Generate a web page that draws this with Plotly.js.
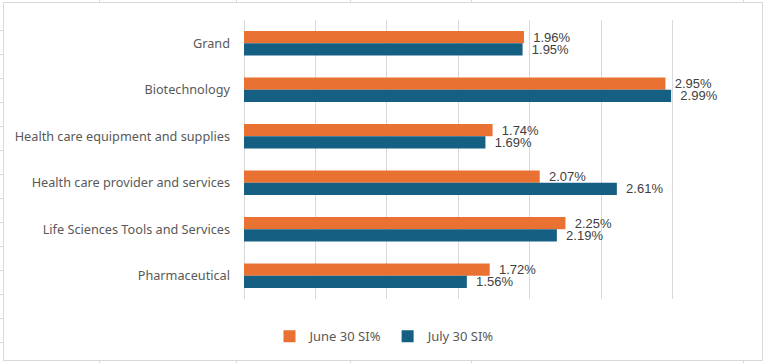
<!DOCTYPE html>
<html>
<head>
<meta charset="utf-8">
<script src="https://cdn.plot.ly/plotly-3.0.1.min.js"></script>
<style>
  html, body { margin: 0; padding: 0; background: #ffffff; }
  #wrap { position: relative; width: 765px; height: 363px; overflow: hidden; }
  #chart { width: 765px; height: 363px; }
  #frame { position: absolute; left: 3px; top: 2px; width: 760px; height: 359px;
           border: 1px solid #d9d9d9; pointer-events: none; box-sizing: border-box; }
  .vt { position: absolute; width: 1px; background: #d9d9d9; pointer-events: none; }
  .hl { position: absolute; height: 1px; background: #d9d9d9; pointer-events: none; }
</style>
</head>
<body>
<div id="wrap">
  <div id="chart"></div>
  <div id="frame"></div>
</div>
<script>
const categories = [
  "Grand",
  "Biotechnology",
  "Health care equipment and supplies",
  "Health care provider and services",
  "Life Sciences Tools and Services",
  "Pharmaceutical"
];
const juneValues = [1.96, 2.95, 1.74, 2.07, 2.25, 1.72];
const julyValues = [1.95, 2.99, 1.69, 2.61, 2.19, 1.56];
const seriesNames = ["June 30 SI%", "July 30 SI%"];

// faint spreadsheet cell lines peeking outside the chart frame (decoration)
(function () {
  const wrap = document.getElementById("wrap");
  [99, 236, 350, 471, 743].forEach(x => {
    const t = document.createElement("div"); t.className = "vt";
    t.style.left = x + "px"; t.style.top = "0px"; t.style.height = "2px"; wrap.appendChild(t);
    const b = document.createElement("div"); b.className = "vt";
    b.style.left = x + "px"; b.style.top = "361px"; b.style.height = "2px"; wrap.appendChild(b);
  });
  [30, 54, 78, 102, 126, 150, 174, 198, 222, 246, 270, 294, 318, 342].forEach(y => {
    const l = document.createElement("div"); l.className = "hl";
    l.style.left = "0px"; l.style.top = y + "px"; l.style.width = "3px"; wrap.appendChild(l);
  });
})();

function labels(vals) {
  return vals.map(v => "\u00a0\u2009" + v.toFixed(2) + "%");
}

const labelFont = { family: "Liberation Sans, Arial, sans-serif", size: 13, color: "#404040" };

const traces = [
  {
    type: "bar", orientation: "h", name: seriesNames[0],
    y: categories, x: juneValues,
    marker: { color: "#E97132" },
    text: labels(juneValues), textposition: "outside", cliponaxis: false,
    constraintext: "none",
    textfont: labelFont, hoverinfo: "x+y"
  },
  {
    type: "bar", orientation: "h", name: seriesNames[1],
    y: categories, x: julyValues,
    marker: { color: "#156082" },
    text: labels(julyValues), textposition: "outside", cliponaxis: false,
    constraintext: "none",
    textfont: labelFont, hoverinfo: "x+y"
  }
];

const layout = {
  width: 765, height: 363,
  margin: { l: 243.5, r: 20.5, t: 20, b: 58.3, pad: 0 },
  paper_bgcolor: "rgba(0,0,0,0)", plot_bgcolor: "rgba(0,0,0,0)",
  barmode: "group", bargap: 0.475, bargroupgap: 0,
  showlegend: true,
  legend: {
    orientation: "h", x: 0.282, xanchor: "center", y: -0.08, yanchor: "top",
    itemwidth: 30,
    font: { family: "Noto Sans, sans-serif", size: 13, color: "#595959" },
    traceorder: "normal"
  },
  xaxis: {
    range: [0, 3.5], dtick: 0.5, showticklabels: false,
    showgrid: true, gridcolor: "#d9d9d9", gridwidth: 1,
    zeroline: true, zerolinecolor: "#d9d9d9", zerolinewidth: 1,
    showline: false, ticks: "", fixedrange: true
  },
  yaxis: {
    type: "category", autorange: "reversed",
    showgrid: false, zeroline: false, showline: false, ticks: "",
    ticklabelstandoff: 13,
    tickfont: { family: "Noto Sans, sans-serif", size: 12.7, color: "#595959" },
    fixedrange: true
  },
  font: { family: "Noto Sans, sans-serif", color: "#595959" }
};

Plotly.newPlot("chart", traces, layout, { displayModeBar: false, staticPlot: true });
</script>
</body>
</html>
